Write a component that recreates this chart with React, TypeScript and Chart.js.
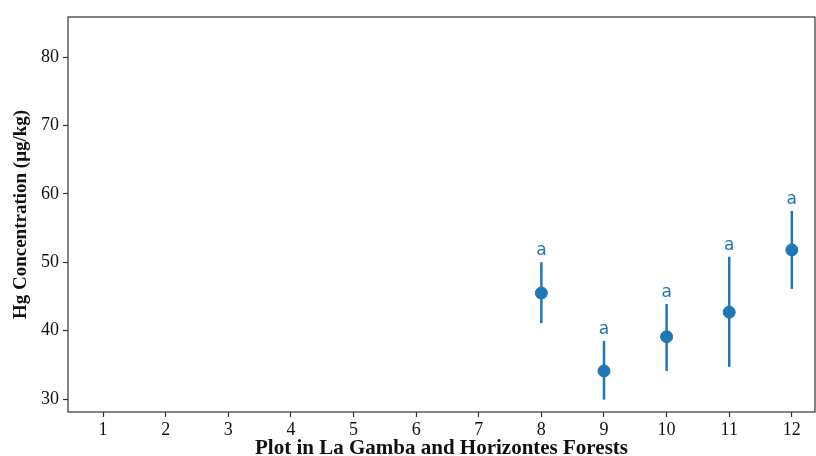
import React, { useEffect, useRef } from "react";
import { Chart, registerables } from "chart.js";

Chart.register(...registerables);

const plots = [8, 9, 10, 11, 12];
const means = [45.5, 34.1, 39.1, 42.7, 51.8];
const lowers = [41.1, 29.9, 34.1, 34.7, 46.1];
const uppers = [50.0, 38.5, 43.9, 50.8, 57.5];
const letters = ["a", "a", "a", "a", "a"];
const xTicks = [1, 2, 3, 4, 5, 6, 7, 8, 9, 10, 11, 12];
const yTicks = [30, 40, 50, 60, 70, 80];

const BLUE = "#1f77b4";

const errorPlugin = {
  id: "errs",
  beforeDatasetsDraw(chart: any) {
    const { ctx, scales } = chart;
    const x = scales.x, y = scales.y;
    ctx.save();
    ctx.strokeStyle = BLUE;
    ctx.lineWidth = 2.5;
    plots.forEach((p, i) => {
      const px = x.getPixelForValue(p);
      ctx.beginPath();
      ctx.moveTo(px, y.getPixelForValue(lowers[i]));
      ctx.lineTo(px, y.getPixelForValue(uppers[i]));
      ctx.stroke();
    });
    ctx.fillStyle = BLUE;
    ctx.font = "17px 'DejaVu Sans'";
    ctx.textAlign = "center";
    ctx.textBaseline = "bottom";
    plots.forEach((p, i) => {
      const px = x.getPixelForValue(p);
      ctx.fillText(letters[i], px, y.getPixelForValue(uppers[i]) - 3);
    });
    ctx.restore();
  },
  afterDraw(chart: any) {
    const { ctx, chartArea: a } = chart;
    ctx.save();
    ctx.strokeStyle = "#333";
    ctx.lineWidth = 1.2;
    ctx.strokeRect(a.left, a.top, a.right - a.left, a.bottom - a.top);
    ctx.restore();
  },
};

export default function App() {
  const ref = useRef<HTMLCanvasElement | null>(null);
  useEffect(() => {
    if (!ref.current) return;
    const chart = new Chart(ref.current, {
      type: "scatter",
      data: {
        datasets: [
          {
            data: plots.map((p, i) => ({ x: p, y: means[i] })),
            backgroundColor: BLUE,
            borderColor: BLUE,
            pointRadius: 6,
            pointHoverRadius: 6,
          },
        ],
      },
      plugins: [errorPlugin],
      options: {
        animation: false,
        responsive: false,
        layout: { autoPadding: false, padding: { left: 0, right: 1, top: 17, bottom: 0 } },
        plugins: { legend: { display: false }, tooltip: { enabled: false } },
        scales: {
          x: {
            type: "linear",
            min: 0.44,
            max: 12.37,
            afterBuildTicks: (s: any) => {
              s.ticks = xTicks.map((v) => ({ value: v }));
            },
            afterFit: (s: any) => {
              s.height = 44;
              s.paddingLeft = 0;
              s.paddingRight = 0;
            },
            grid: { drawOnChartArea: false, tickLength: 5, color: "#333", tickWidth: 1.2 },
            border: { display: false },
            ticks: {
              color: "#111",
              font: { family: "'Liberation Serif'", size: 18 },
              padding: 2,
              maxRotation: 0,
              callback: (v: any) => String(v),
            },
            title: {
              display: true,
              text: "Plot in La Gamba and Horizontes Forests",
              color: "#111",
              font: { family: "'Liberation Serif'", size: 21, weight: "bold", lineHeight: 1 },
              padding: { top: 0, bottom: -3 },
            },
          },
          y: {
            min: 28.1,
            max: 85.85,
            afterBuildTicks: (s: any) => {
              s.ticks = yTicks.map((v) => ({ value: v }));
            },
            afterFit: (s: any) => {
              s.width = 68;
            },
            grid: { drawOnChartArea: false, tickLength: 5, color: "#333", tickWidth: 1.2 },
            border: { display: false },
            ticks: {
              color: "#111",
              font: { family: "'Liberation Serif'", size: 18 },
              padding: 4,
            },
            title: {
              display: true,
              text: "Hg Concentration (μg/kg)",
              color: "#111",
              font: { family: "'Liberation Serif'", size: 19, weight: "bold" },
              padding: { top: 10, bottom: 0 },
            },
          },
        },
      },
    });
    return () => chart.destroy();
  }, []);
  return (
    <div style={{ position: "fixed", left: 0, top: 0, width: 816, height: 456, background: "#fff" }}>
      <canvas ref={ref} width={816} height={456} style={{ width: 816, height: 456 }} />
    </div>
  );
}
